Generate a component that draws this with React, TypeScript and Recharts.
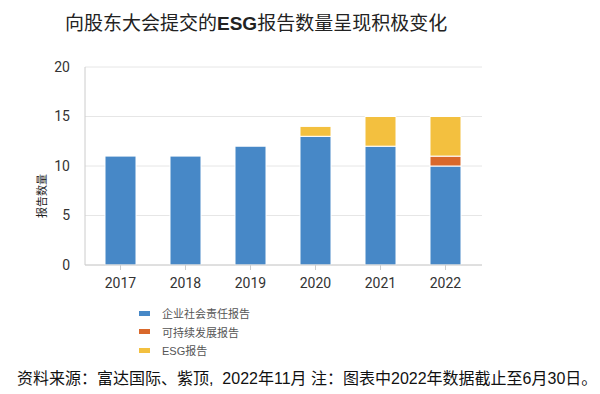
import { BarChart, Bar, XAxis, YAxis, CartesianGrid } from 'recharts';

const years = ['2017', '2018', '2019', '2020', '2021', '2022'];
const csrReports = [11, 11, 12, 13, 12, 10];
const sustainabilityReports = [0, 0, 0, 0, 0, 1];
const esgReports = [0, 0, 0, 1, 3, 4];
const yTicks = [0, 5, 10, 15, 20];

const seriesList = [
  { key: 'csr', name: '企业社会责任报告', color: '#4788C7' },
  { key: 'sus', name: '可持续发展报告', color: '#D9682B' },
  { key: 'esg', name: 'ESG报告', color: '#F3C03F' },
];

const data = years.map((year, i) => ({
  year,
  csr: csrReports[i],
  sus: sustainabilityReports[i],
  esg: esgReports[i],
}));

const cjk = '"Liberation Sans", Arial, "Noto Sans CJK SC", sans-serif';

// legend drawn as plain html, the recharts one eats plot space
const LegendList = () => (
  <div style={{ position: 'absolute', left: 139, top: 304, fontFamily: cjk, fontSize: 11, color: '#555' }}>
    {seriesList.map((s) => (
      <div key={s.key} style={{ display: 'flex', alignItems: 'center', height: 18.5 }}>
        <span style={{ width: 11, height: 5, background: s.color, marginRight: 12, display: 'inline-block' }} />
        <span>{s.name}</span>
      </div>
    ))}
  </div>
);

export default function App() {
  return (
    <div style={{ position: 'absolute', left: 0, top: 0, width: 600, height: 394, background: '#fff', fontFamily: cjk }}>
      <div style={{ position: 'absolute', left: 65, top: 8, fontSize: 19, color: '#222', whiteSpace: 'nowrap' }}>
        向股东大会提交的<b>ESG</b>报告数量呈现积极变化
      </div>
      <BarChart
        width={600}
        height={394}
        data={data}
        margin={{ top: 67, right: 118, bottom: 99, left: 35 }}
      >
        <CartesianGrid vertical={false} stroke="#e6e6e6" />
        <XAxis
          dataKey="year"
          height={30}
          stroke="#cccccc"
          tickSize={5}
          tickMargin={8}
          padding={{ left: 3, right: 4 }}
          tick={{ fill: '#333', fontSize: 14, fontFamily: 'Roboto, sans-serif' }}
        />
        <YAxis
          width={50}
          domain={[0, 20]}
          ticks={yTicks}
          stroke="#cccccc"
          tickLine={false}
          tickMargin={9}
          tick={{ fill: '#333', fontSize: 14, fontFamily: 'Roboto, sans-serif' }}
          label={{
            value: '报告数量',
            angle: -90,
            position: 'center',
            dx: -18,
            dy: 30,
            style: { fontSize: 11, fill: '#222', fontFamily: '"Noto Sans CJK SC", sans-serif' },
          }}
        />
        {seriesList.map((s) => (
          <Bar
            key={s.key}
            dataKey={s.key}
            name={s.name}
            stackId="a"
            fill={s.color}
            stroke="#ffffff"
            strokeWidth={1}
            barSize={31}
            isAnimationActive={false}
          />
        ))}
      </BarChart>
      <LegendList />
      <div style={{ position: 'absolute', left: 17, top: 365, fontSize: 16, color: '#111', whiteSpace: 'nowrap' }}>
        资料来源：富达国际、紫顶,&nbsp; 2022年11月 注：图表中2022年数据截止至6月30日。
      </div>
    </div>
  );
}
